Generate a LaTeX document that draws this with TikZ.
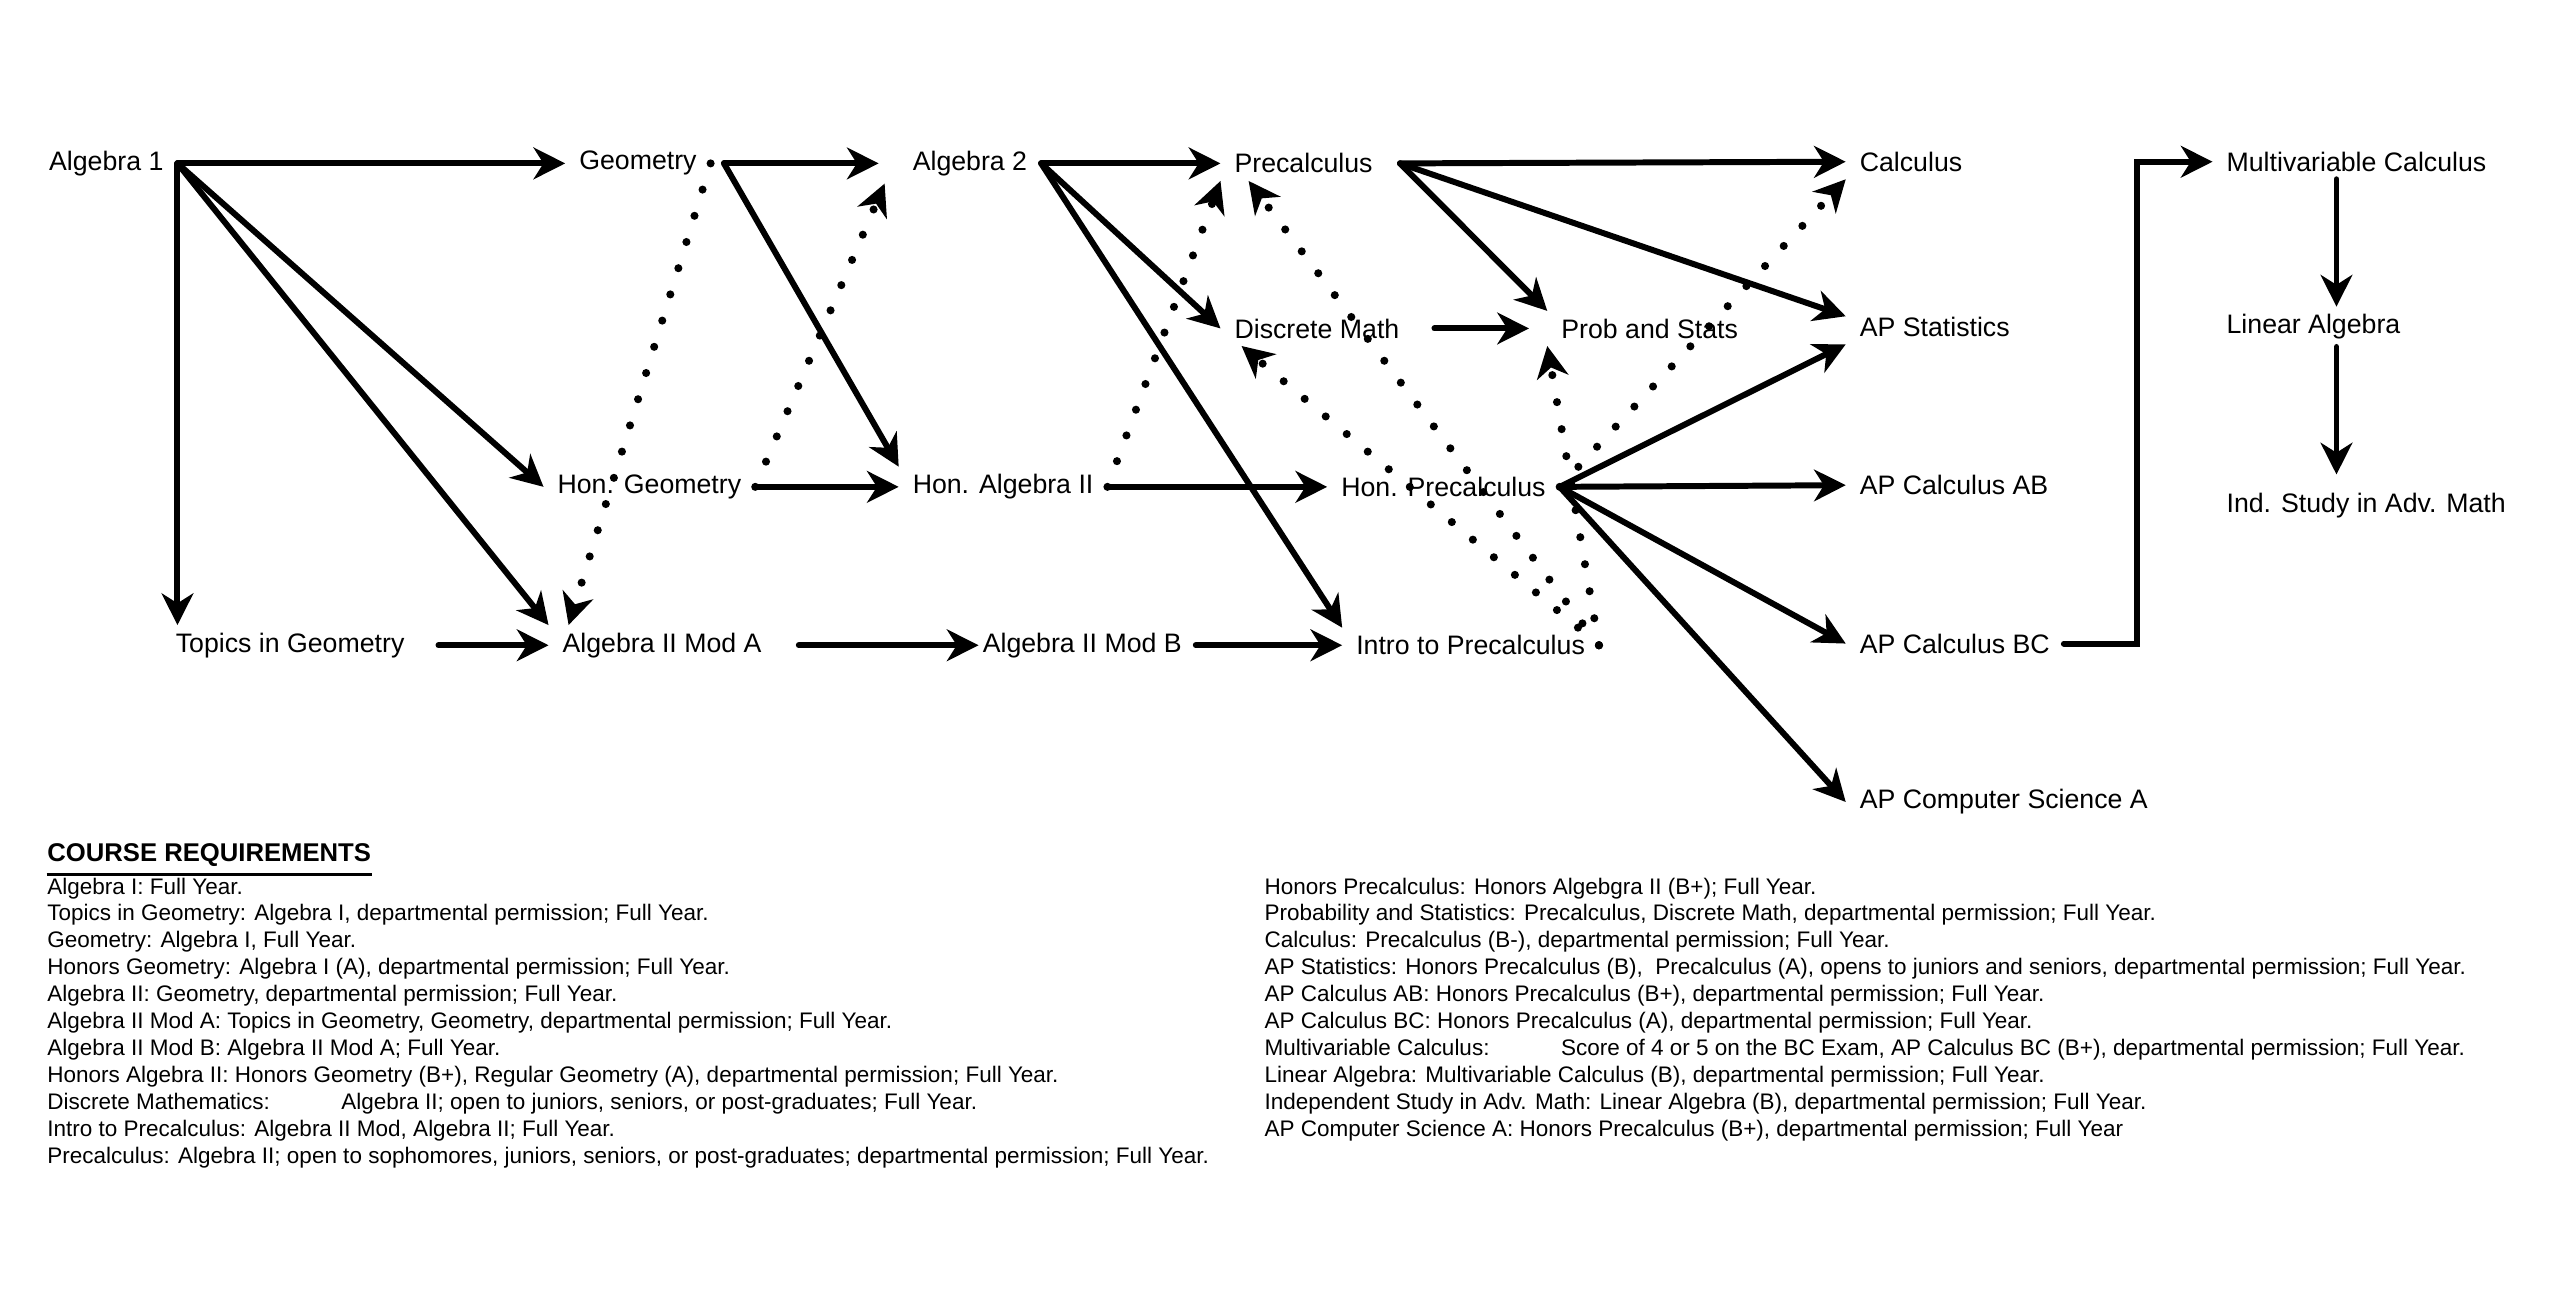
\documentclass[tikz,border=0pt]{standalone}
\usepackage{fontspec}
\setmainfont{Liberation Sans}
\usetikzlibrary{arrows.meta}

\tikzstyle{course}=[anchor=west, inner xsep=3.8pt, inner ysep=2pt, font=\fontsize{7.6}{9}\selectfont]
\tikzstyle{arrow}=[line width=1.7pt, line cap=round, -{Stealth[length=9pt, width=9pt, inset=2.8pt]}]
\tikzstyle{maybe}=[arrow, line width=2.3pt, dash pattern=on 0pt off 7.8pt]
\tikzstyle{req}=[anchor=north west, inner sep=0pt, align=left, font=\fontsize{6.4}{7.66}\selectfont]

\begin{document}
\begin{tikzpicture}[x=0.16673mm, y=-0.16673mm]
      \useasboundingbox (0, 0) rectangle (1545, 774);

      % courses
      \node[course] (alg1) at (21, 98) {Algebra 1};
      \node[course] (geo) at (339, 98) {Geometry};
      \node[course] (alg2) at (539, 98) {Algebra 2};
      \node[course] (precalc) at (732, 98) {Precalculus};
      \node[course] (calc) at (1107, 97) {Calculus};
      \node[course] (multi) at (1327, 97) {Multivariable Calculus};
      \node[course] (discrete) at (732, 197) {Discrete Math};
      \node[course] (probstats) at (928, 197) {Prob and Stats};
      \node[course] (apstats) at (1107, 196) {AP Statistics};
      \node[course] (linalg) at (1327, 196) {Linear Algebra};
      \node[course] (hongeo) at (326, 292) {Hon. Geometry};
      \node[course] (honalg) at (539, 292) {Hon. Algebra II};
      \node[course] (honprecalc) at (796, 292) {Hon. Precalculus};
      \node[course] (apab) at (1107, 291) {AP Calculus AB};
      \node[course] (indstudy) at (1327, 303) {Ind. Study in Adv. Math};
      \node[course] (topics) at (97, 387) {Topics in Geometry};
      \node[course] (modA) at (329, 387) {Algebra II Mod A};
      \node[course] (modB) at (581, 387) {Algebra II Mod B};
      \node[course] (intro) at (805, 387) {Intro to Precalculus};
      \node[course] (apbc) at (1107, 386) {AP Calculus BC};
      \node[course] (apcs) at (1107, 481) {AP Computer Science A};

      % required paths
      \draw[arrow] (alg1.east) to (geo.west);
      \draw[arrow] (alg1.east) to (alg1.east |- topics.north);
      \draw[arrow] (alg1.east) to (hongeo.west);
      \draw[arrow] (alg1.east) to (modA.north west);
      \draw[arrow] ([xshift=3.8pt]geo.east) to ([xshift=-5.7pt]alg2.west);
      \draw[arrow] ([xshift=3.8pt]geo.east) to (honalg.north west);
      \draw[arrow] (hongeo.east) to (honalg.west);
      \draw[arrow] ([xshift=5.7pt]topics.east) to (modA.west);
      \draw[arrow] ([xshift=6.6pt]modA.east) to ([xshift=2.8pt]modB.west);
      \draw[arrow] (alg2.east) to (precalc.west);
      \draw[arrow] (alg2.east) to (discrete.west);
      \draw[arrow] (alg2.east) to (intro.north west);
      \draw[arrow] (honalg.east) to (honprecalc.west);
      \draw[arrow] (modB.east) to (intro.west);
      \draw[arrow] ([xshift=6pt]discrete.east) to ([xshift=-5.2pt]probstats.west);
      \draw[arrow] ([xshift=3.8pt]precalc.east) to (calc.west);
      \draw[arrow] ([xshift=3.8pt]precalc.east) to (probstats.north west);
      \draw[arrow] ([xshift=3.8pt]precalc.east) to ([yshift=3pt]apstats.west);
      \draw[arrow] (honprecalc.east) to (apstats.south west);
      \draw[arrow] (honprecalc.east) to (apab.west);
      \draw[arrow] (honprecalc.east) to (apbc.west);
      \draw[arrow] (honprecalc.east) to (apcs.west);
      \draw[arrow] (apbc.east) -- ++(44, 0) |- (multi.west);
      \draw[arrow] ([xshift=-5.7pt]multi.south) to ([xshift=-5.7pt]multi.south |- linalg.north);
      \draw[arrow] ([xshift=-5.7pt]multi.south |- linalg.south) to ([xshift=-5.7pt, yshift=3pt]multi.south |- indstudy.north);

      % dotted paths
      \draw[maybe] (geo.east) to ([xshift=5.7pt]modA.north west);
      \draw[maybe] (hongeo.east) to ([xshift=-4pt]alg2.south west);
      \draw[maybe] (honalg.east) to (precalc.south west);
      \draw[maybe] (intro.east) to ([xshift=8pt]precalc.south west);
      \draw[maybe] (intro.east) to ([xshift=6pt]discrete.south west);
      \draw[maybe] (intro.east) to (probstats.south west);
      \draw[maybe] (honprecalc.east) to (calc.south west);

      % requirements
      \node[anchor=west, inner sep=0pt, font=\fontsize{7.3}{9}\selectfont\bfseries] (title) at (28, 513) {COURSE REQUIREMENTS};
      \draw[line width=1.1pt] ([yshift=-2pt]title.south west) -- ([yshift=-2pt]title.south east);

      \node[req] (reqleft) at (28, 526) {Algebra I: Full Year.\\
        Topics in Geometry: Algebra I, departmental permission; Full Year.\\
        Geometry: Algebra I, Full Year.\\
        Honors Geometry: Algebra I (A), departmental permission; Full Year.\\
        Algebra II: Geometry, departmental permission; Full Year.\\
        Algebra II Mod A: Topics in Geometry, Geometry, departmental permission; Full Year.\\
        Algebra II Mod B: Algebra II Mod A; Full Year.\\
        Honors Algebra II: Honors Geometry (B+), Regular Geometry (A), departmental permission; Full Year.\\
        Discrete Mathematics:\hspace{18pt} Algebra II; open to juniors, seniors, or post-graduates; Full Year.\\
        Intro to Precalculus: Algebra II Mod, Algebra II; Full Year.\\
        Precalculus: Algebra II; open to sophomores, juniors, seniors, or post-graduates; departmental permission; Full Year.};

      \node[req] (reqright) at (758, 526) {Honors Precalculus: Honors Algebgra II (B+); Full Year.\\
        Probability and Statistics: Precalculus, Discrete Math, departmental permission; Full Year.\\
        Calculus: Precalculus (B-), departmental permission; Full Year.\\
        AP Statistics: Honors Precalculus (B),\ \ Precalculus (A), opens to juniors and seniors, departmental permission; Full Year.\\
        AP Calculus AB: Honors Precalculus (B+), departmental permission; Full Year.\\
        AP Calculus BC: Honors Precalculus (A), departmental permission; Full Year.\\
        Multivariable Calculus:\hspace{18pt} Score of 4 or 5 on the BC Exam, AP Calculus BC (B+), departmental permission; Full Year.\\
        Linear Algebra: Multivariable Calculus (B), departmental permission; Full Year.\\
        Independent Study in Adv. Math: Linear Algebra (B), departmental permission; Full Year.\\
        AP Computer Science A: Honors Precalculus (B+), departmental permission; Full Year};
    \end{tikzpicture}
\end{document}
